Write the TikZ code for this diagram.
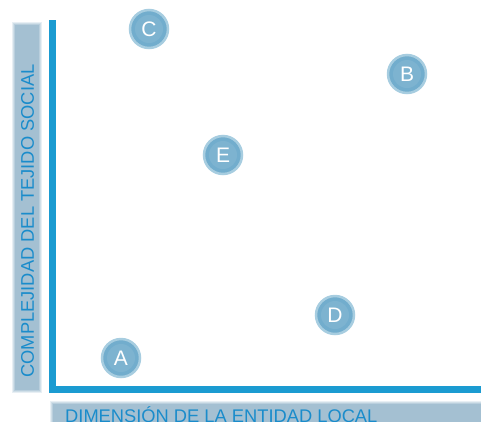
\documentclass[tikz,border=0pt]{standalone}
\usepackage{fontspec}
\setmainfont{Liberation Sans}
\usetikzlibrary{calc}
\definecolor{axisblue}{HTML}{1B9BD1}
\definecolor{txtblue}{HTML}{1A8CCB}
\definecolor{barcol}{HTML}{A4C0D2}
\definecolor{ballfill}{HTML}{72ADCD}
\definecolor{ballrim}{HTML}{A7CDE0}
\tikzset{
  ball/.style={circle, minimum size=38pt, inner sep=0pt, fill=ballfill,
    draw=ballrim, line width=2.5pt, text=white, font=\fontsize{21}{21}\selectfont,
    path picture={\fill[white, opacity=0.08] (path picture bounding box.center) circle (14pt);}},
  axisline/.style={draw=axisblue, line width=7pt},
  labeltext/.style={text=txtblue, font=\fontsize{18.3}{18.3}\selectfont, inner sep=0pt},
}
\begin{document}
\begin{tikzpicture}[x=1pt,y=1pt]
\useasboundingbox (0,0) rectangle (481,-421);
% label bars (soft edges)
\foreach \i/\op in {0/0.25,2/0.35,4/0.5,6/1} {
  \fill[barcol, opacity=\op] (12+\i*0.5,-22-\i*0.5) rectangle (42-\i*0.5,-393+\i*0.5);
  \fill[barcol, opacity=\op] (50+\i*0.5,-401-\i*0.5) rectangle (481,-425);
}
% axes
\coordinate (ytop) at (52.5,-20);
\coordinate (origin) at (52.5,-389.5);
\coordinate (xend) at (481,-389.5);
\draw[axisline] (ytop) -- (origin) -- (xend);
% axis labels
\node[labeltext, rotate=90, anchor=center] (ylab) at (27.5,-221) {COMPLEJIDAD DEL TEJIDO SOCIAL};
\node[labeltext, anchor=base west] (xlab) at (65,-422.5) {DIMENSIÓN DE LA ENTIDAD LOCAL};
% points
\node[ball] (C) at (149,-29) {C};
\node[ball] (B) at (407,-74) {B};
\node[ball] (E) at (223,-155) {E};
\node[ball] (D) at (335,-315) {D};
\node[ball] (A) at (121,-358) {A};
\end{tikzpicture}
\end{document}
